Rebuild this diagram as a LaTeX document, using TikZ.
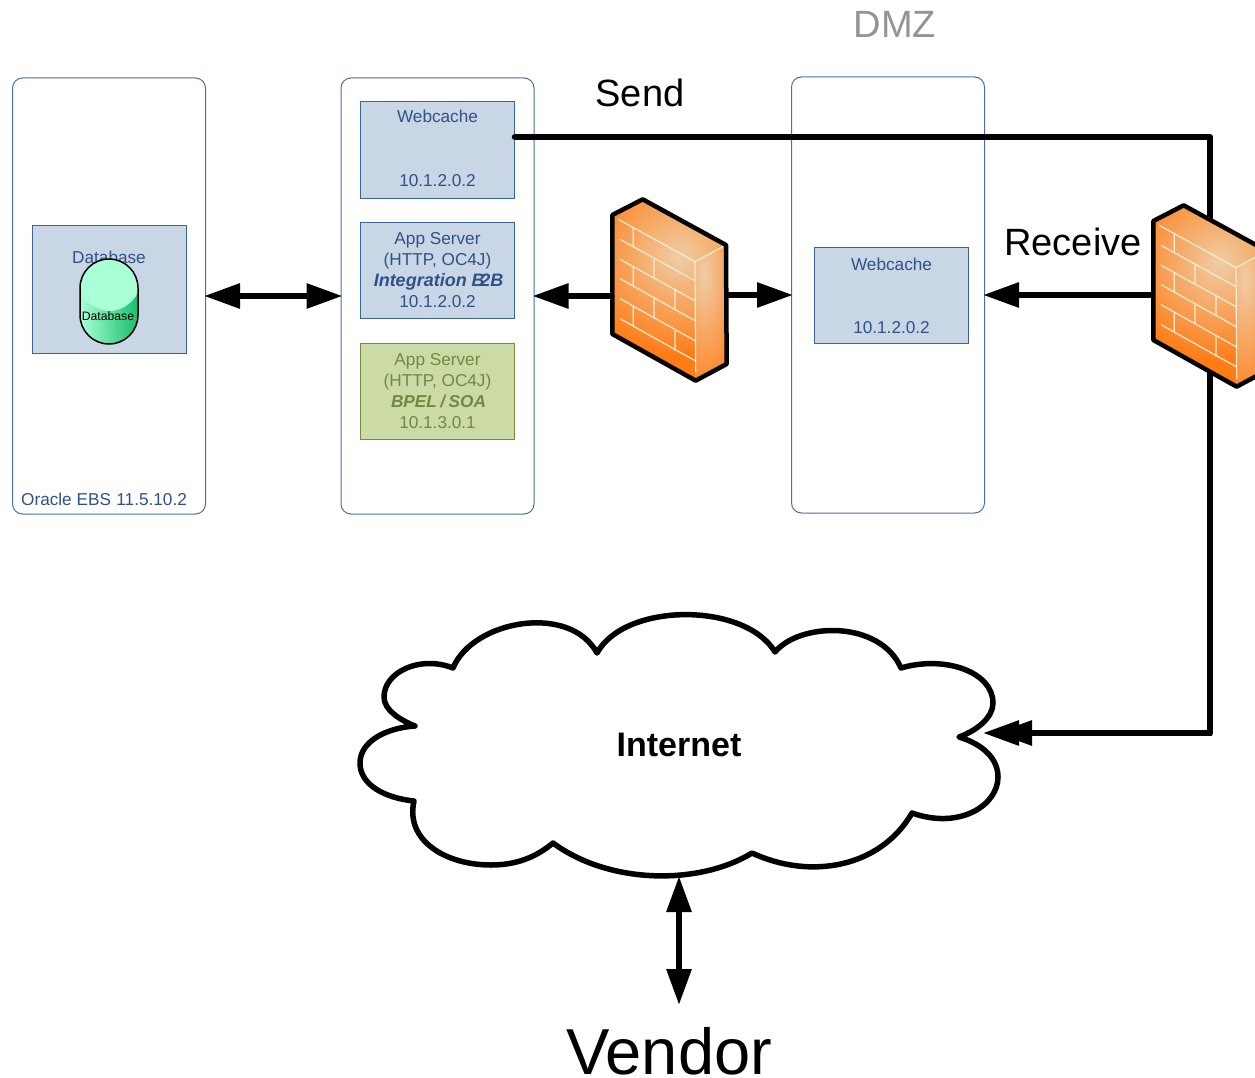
\documentclass[tikz,border=0pt]{standalone}
\usepackage{fontspec}
\setmainfont{Liberation Sans}
\usetikzlibrary{arrows.meta}
\definecolor{frameblue}{HTML}{4A6FA5}
\definecolor{boxblue}{HTML}{C9D6E6}
\definecolor{edgeblue}{HTML}{3A629B}
\definecolor{textblue}{HTML}{2F5288}
\definecolor{boxgreen}{HTML}{CCDAA6}
\definecolor{edgegreen}{HTML}{6F8F3A}
\definecolor{textgreen}{HTML}{718A42}
\definecolor{fworange}{HTML}{FF7B14}
\definecolor{fwglow}{HTML}{EFCDA6}
\definecolor{fwline}{HTML}{F6EDD3}
\definecolor{Mintlight}{HTML}{A9FFD6}
\definecolor{Mintdark}{HTML}{17BF6B}
\tikzset{
  x=1pt,y=-1pt,
  frame/.style={draw=frameblue,line width=1pt,rounded corners=10pt,minimum width=193pt,minimum height=436pt,inner sep=0pt},
  bluebox/.style={draw=edgeblue,fill=boxblue,line width=1pt,minimum width=154pt,minimum height=96.5pt,inner sep=0pt},
  greenbox/.style={draw=edgegreen,fill=boxgreen,line width=1pt,minimum width=154pt,minimum height=96.5pt,inner sep=0pt},
  lab/.style={anchor=base,inner sep=0pt,text=textblue,font=\fontsize{17.2}{20}\selectfont},
  glab/.style={anchor=base,inner sep=0pt,text=textgreen,font=\fontsize{17.2}{20}\selectfont},
  big/.style={anchor=base,inner sep=0pt,text=black,font=\fontsize{38}{44}\selectfont},
  conn/.style={line width=6pt,draw=black,shorten >=-2pt,shorten <=-2pt},
  lineconn/.style={line width=6.5pt,draw=black,line join=round},
  bigtip/.tip={Triangle[length=36pt,width=24pt]},
  firewall/.pic={
    \begin{scope}[x=0.33333pt,y=-0.33333pt]
      \begin{scope}
        \clip (37,75) -- (128,28) -- (378,165) -- (285,215) -- (287,572) -- (37,432) -- cycle;
        \fill[fworange] (30,20) rectangle (300,580);
        \shade[inner color=fwglow,outer color=fworange] (235,200) circle (300);
      \end{scope}
      \begin{scope}
        \clip (285,215) -- (378,165) -- (380,522) -- (287,572) -- cycle;
        \fill[fworange] (280,160) rectangle (385,580);
        \shade[inner color=fwglow,outer color=fworange] (312,250) ellipse (130 and 400);
      \end{scope}
      \draw[fwline,line width=1.2pt]
        (55,88) -- (285,215) -- (378,165) (285,215) -- (287,548)
        (60,148) -- (285,272) (60,208) -- (285,332) (60,266) -- (285,392)
        (60,326) -- (285,452) (60,386) -- (285,512)
        (100,112) -- (100,170) (162,208) -- (162,265) (100,232) -- (100,290)
        (225,300) -- (225,358) (162,327) -- (162,385) (100,350) -- (100,408)
        (225,423) -- (225,482);
      \draw[black,line width=4.5pt,line join=round]
        (37,75) -- (128,28) -- (378,165) -- (380,522) -- (287,572) -- (37,432) -- cycle;
    \end{scope}
  }
}
\begin{document}
\begin{tikzpicture}
\useasboundingbox (0,0) rectangle (1255,1078);
\begin{scope}
\clip (0,0) rectangle (1255,1078);

% frames
\node[frame] (ebs) at (109,296) {};
\node[frame] (apps) at (437.5,296) {};
\node[frame] (dmz) at (888,295) {};

% inner boxes
\node[bluebox,minimum height=128.5pt] (dbbox) at (109,289.5) {};
\node[lab] (dbtext) at (109,263) {Database};
\node[bluebox] (webA) at (437.5,149.8) {};
\node[lab] (webAname) at (437.5,123) {Webcache};
\node[lab] (webAver) at (437.5,186) {10.1.2.0.2};
\node[bluebox] (appB) at (437.5,270.5) {};
\node[lab] (appBa) at (437.5,244) {App Server};
\node[lab] (appBb) at (437.5,265) {(HTTP, OC4J)};
\node[lab,font=\fontsize{18}{20}\selectfont\bfseries\itshape] (appBc) at (438.5,286) {Integration B\kern-4.5pt 2B};
\node[lab] (appBd) at (437.5,307) {10.1.2.0.2};
\node[greenbox] (appC) at (437.5,391.3) {};
\node[glab] (appCa) at (437.5,365) {App Server};
\node[glab] (appCb) at (437.5,386) {(HTTP, OC4J)};
\node[glab,font=\fontsize{17.2}{20}\selectfont\bfseries\itshape] (appCc) at (438.5,407) {BPEL\kern3.5pt/\kern3.5pt SOA};
\node[glab] (appCd) at (437.5,428) {10.1.3.0.1};
\node[bluebox] (webD) at (891.5,295.5) {};
\node[lab] (webDname) at (891.5,270) {Webcache};
\node[lab] (webDver) at (891.5,333) {10.1.2.0.2};
\node[lab] (ebstext) at (104,505) {Oracle EBS\kern5.4pt 11.5.10.2};

% database cylinder
\begin{scope}
  \clip[rounded corners=29pt] (80,259) rectangle (138,344);
  \shade[left color=Mintlight,right color=Mintdark] (80,259) rectangle (138,344);
  \fill[Mintlight] (80,259) -- (80,292) .. controls (85,304) and (100,311) .. (110,311) .. controls (120,311) and (133,304) .. (138,292) -- (138,259) -- cycle;
\end{scope}
\draw[black,line width=1.5pt,rounded corners=29pt] (80,259) rectangle (138,344);
\node[anchor=base,inner sep=0pt,text=black,font=\fontsize{12.2}{14}\selectfont] (dblabel) at (108,320) {Database};

% headings
\node[big,text=black!42] (dmzlabel) at (895,38) {DMZ};
\node[big] (send) at (640,107) {Send};
\node[big] (receive) at (1073,255) {Receive};
\node[big,font=\fontsize{65}{70}\selectfont] (vendor) at (669,1074.5) {Vendor};

% invisible firewall anchors
\node[minimum width=115pt,minimum height=182pt,inner sep=0pt] (fwa) at (669.5,290) {};
\node[minimum width=115pt,minimum height=182pt,inner sep=0pt] (fwb) at (1210.5,296) {};
\coordinate (sendstart) at (webA.east |- 0,137);
\coordinate (sendtop) at (1210,137);
\coordinate (sendbottom) at (1210,733);
\coordinate (cloudE) at (985,733);
\coordinate (cloudS) at (679,878);
\coordinate (vendortop) at (679,1003);

% cloud
\draw[black,fill=white,line width=5.5pt,line join=round]
  (453,668) .. controls (473,620) and (570,603) .. (597,653)
  .. controls (625,602) and (745,602) .. (775,652)
  .. controls (800,622) and (880,620) .. (901,668)
  .. controls (945,655) and (993,672) .. (993,703)
  .. controls (993,717) and (978,730) .. (959,737)
  .. controls (985,745) and (998,760) .. (998,777)
  .. controls (998,805) and (960,830) .. (912,813)
  .. controls (880,868) and (810,880) .. (752,853)
  .. controls (700,885) and (610,885) .. (553,843)
  .. controls (535,858) and (515,865) .. (491,865)
  .. controls (445,865) and (405,840) .. (414,801)
  .. controls (385,798) and (360,785) .. (360,763)
  .. controls (360,742) and (385,728) .. (415,726)
  .. controls (400,720) and (384,710) .. (384,697)
  .. controls (384,672) and (420,655) .. (453,668) -- cycle;
\node[anchor=base,inner sep=0pt,text=black,font=\fontsize{34}{40}\selectfont\bfseries] (internet) at (679,756) {Internet};

% connectors
\draw[conn,{bigtip}-{bigtip}] (ebs.east) -- (apps.west);
\draw[lineconn,line cap=round] (sendstart) -- (sendtop) -- (sendbottom) -- ++(-20,0);
\draw[conn,-{Triangle[length=36pt,width=24pt,sep=-23pt]Triangle[length=36pt,width=24pt]}] (sendbottom) -- (cloudE);
\draw[conn,-{bigtip}] (fwa.west |- apps.east) -- (apps.east);
\draw[conn,-{bigtip}] (fwa.east |- dmz.west) -- (dmz.west);
\draw[conn,-{bigtip}] (fwb.west |- dmz.east) -- (dmz.east);
\draw[conn,{bigtip}-{bigtip}] (cloudS) -- (vendortop);

% firewalls
\pic at (600,190) {firewall};
\pic at (1141,196) {firewall};
\end{scope}
\end{tikzpicture}
\end{document}
